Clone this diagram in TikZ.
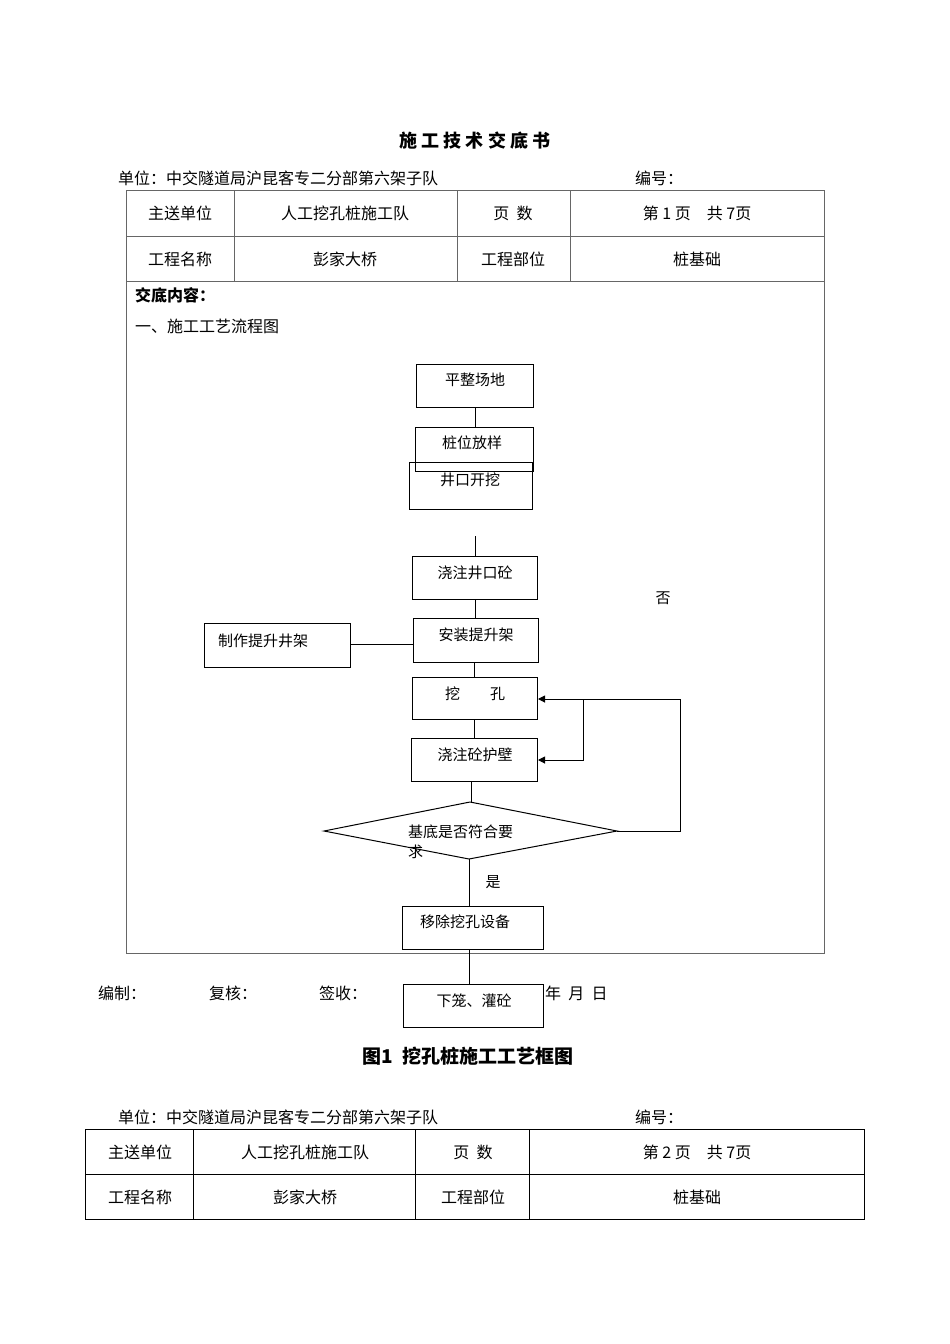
\documentclass[tikz,border=0pt]{standalone}
\usepackage{fontspec}
\setmainfont{Liberation Serif}
\newfontfamily\cjk{Noto Sans CJK SC}
\usetikzlibrary{shapes.geometric,arrows.meta}
\tikzset{
  box/.style={draw, thick, minimum width=0pt, inner sep=0pt},
  txt/.style={font=\cjk\fontsize{15}{17}\selectfont, inner sep=0pt},
  cell/.style={font=\cjk\fontsize{16}{18}\selectfont, inner sep=0pt},
  grid/.style={draw=black!60, line width=1pt},
  flow/.style={line width=1pt},
}
\begin{document}
\begin{tikzpicture}[x=1pt, y=-1pt]
          \useasboundingbox (0,0) rectangle (950,1344);

          % header
          \node[cell, font=\cjk\bfseries\fontsize{18}{20}\selectfont] (title) at (475,141) {施\ 工\ 技\ 术\ 交\ 底\ 书};
          \node[cell, anchor=west] (unit1) at (118,178) {单位：中交隧道局沪昆客专二分部第六架子队};
          \node[cell, anchor=west] (num1) at (635,178) {编号：};

          % table 1
          \draw[grid] (126,190) rectangle (824,953);
          \draw[grid] (126,236) -- (824,236);
          \draw[grid] (126,281) -- (824,281);
          \foreach \x in {234,457,570} \draw[grid] (\x,190) -- (\x,281);
          \node[cell] (a1) at (180,213) {主送单位};
          \node[cell] (b1) at (345,213) {人工挖孔桩施工队};
          \node[cell] (c1) at (513,213) {页\ \ 数};
          \node[cell] (d1) at (697,213) {第\ 1\ 页\quad 共\ 7页};
          \node[cell] (a2) at (180,259) {工程名称};
          \node[cell] (b2) at (345,259) {彭家大桥};
          \node[cell] (c2) at (513,259) {工程部位};
          \node[cell] (d2) at (697,259) {桩基础};
          \node[cell, anchor=west, font=\cjk\bfseries\fontsize{16}{18}\selectfont] (content) at (135,295) {交底内容：};
          \node[cell, anchor=west] (sec1) at (135,326) {一、施工工艺流程图};

          % flow chart
          \draw[box, fill=white] (409,462) rectangle (532,509);
          \node[txt] (jkt) at (470,480) {井口开挖};
          \draw[box] (416,364) rectangle (533,407);
          \node[txt] (pzt) at (475,380) {平整场地};
          \draw[flow] (475,407) -- (475,427);
          \draw[box, fill=white, fill opacity=0] (415,427) rectangle (533,471);
          \node[txt] (zwt) at (472,443) {桩位放样};
          \draw[flow] (475,536) -- (475,556);
          \draw[box] (412,556) rectangle (537,599);
          \node[txt] (jzt) at (475,573) {浇注井口砼};
          \draw[flow] (475,599) -- (475,618);
          \draw[box] (413,618) rectangle (538,662);
          \node[txt] (azt) at (476,635) {安装提升架};
          \draw[box] (204,623) rectangle (350,667);
          \node[txt] (zzt) at (263,641) {制作提升井架};
          \draw[flow] (350,644) -- (413,644);
          \draw[flow] (474,662) -- (474,677);
          \draw[box] (412,677) rectangle (537,719);
          \node[txt] (wkt) at (475,694) {挖\qquad 孔};
          \draw[flow] (474,719) -- (474,738);
          \draw[box] (411,738) rectangle (537,781);
          \node[txt] (hbt) at (475,755) {浇注砼护壁};
          \draw[flow] (471,781) -- (471,802);
          \draw[flow] (324,831) -- (470,802) -- (617,831) -- (469,859) -- cycle;
          \node[txt, anchor=west] (jdt) at (408,832) {基底是否符合要};
          \node[txt, anchor=west] (jdq) at (408,852) {求};
          \node[txt] (no) at (663,598) {否};
          \draw[flow, -{Triangle[length=7pt,width=7pt]}] (617,831) -- (680,831) -- (680,699) -- (538,699);
          \draw[flow, -{Triangle[length=7pt,width=7pt]}] (583,699) -- (583,760) -- (538,760);
          \draw[flow] (469,859) -- (469,906);
          \node[txt] (yes) at (493,882) {是};
          \draw[box] (402,906) rectangle (543,949);
          \node[txt] (ycs) at (465,922) {移除挖孔设备};
          \draw[flow] (469,949) -- (469,984);
          \draw[box] (403,984) rectangle (543,1027);
          \node[txt] (xlg) at (474,1001) {下笼、灌砼};

          % footer
          \node[cell, anchor=west] (bz) at (98,993) {编制：};
          \node[cell, anchor=west] (fh) at (209,993) {复核：};
          \node[cell, anchor=west] (qs) at (319,993) {签收：};
          \node[cell, anchor=west] (date) at (545,993) {年\ \ 月\ \ 日};
          \node[cell, font=\cjk\bfseries\fontsize{19}{21}\selectfont] (cap) at (468,1056) {图1\ \ 挖孔桩施工工艺框图};

          % table 2
          \node[cell, anchor=west] (unit2) at (118,1117) {单位：中交隧道局沪昆客专二分部第六架子队};
          \node[cell, anchor=west] (num2) at (635,1117) {编号：};
          \draw[line width=1pt] (85,1129) rectangle (864,1219);
          \draw[line width=1pt] (85,1174) -- (864,1174);
          \foreach \x in {193,415,529} \draw[line width=1pt] (\x,1129) -- (\x,1219);
          \node[cell] (e1) at (140,1152) {主送单位};
          \node[cell] (f1) at (305,1152) {人工挖孔桩施工队};
          \node[cell] (g1) at (473,1152) {页\ \ 数};
          \node[cell] (h1) at (697,1152) {第\ 2\ 页\quad 共\ 7页};
          \node[cell] (e2) at (140,1197) {工程名称};
          \node[cell] (f2) at (305,1197) {彭家大桥};
          \node[cell] (g2) at (473,1197) {工程部位};
          \node[cell] (h2) at (697,1197) {桩基础};

        \end{tikzpicture}
\end{document}
